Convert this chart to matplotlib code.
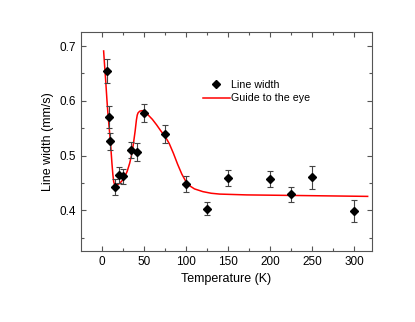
import numpy as np
import matplotlib
matplotlib.use("Agg")
import matplotlib.pyplot as plt
from matplotlib.lines import Line2D

plt.rcParams['font.family'] = ['Liberation Sans', 'DejaVu Sans']

# measured line width vs temperature
temp = [6, 8, 10, 15, 20, 25, 35, 42, 50, 75, 100, 125, 150, 200, 225, 250, 300]
width = [0.655, 0.570, 0.526, 0.442, 0.464, 0.462, 0.510, 0.506, 0.578, 0.539,
         0.448, 0.403, 0.459, 0.457, 0.429, 0.460, 0.399]
err = [0.022, 0.020, 0.016, 0.015, 0.015, 0.014, 0.014, 0.016, 0.016, 0.016,
       0.015, 0.012, 0.015, 0.015, 0.014, 0.021, 0.020]

# guide to the eye
guide_t = [2.0, 3.0, 4.4, 6.0, 7.1, 8.5, 10, 11, 11.9, 13, 14, 15, 16, 18, 21, 24,
           27, 30, 33, 36, 38, 39.5, 41, 42, 43, 45, 48, 51, 55, 60, 65, 70, 75,
           80, 85, 90, 95, 100, 105, 110, 120, 130, 140, 172, 227, 316]
guide_w = [0.691, 0.668, 0.638, 0.600, 0.577, 0.552, 0.528, 0.505, 0.4855, 0.465,
           0.452, 0.447, 0.445, 0.446, 0.449, 0.454, 0.461, 0.471, 0.486, 0.506,
           0.528, 0.545, 0.565, 0.574, 0.578, 0.581, 0.582, 0.580, 0.574, 0.566,
           0.556, 0.545, 0.535, 0.522, 0.504, 0.484, 0.466, 0.452, 0.444, 0.439,
           0.434, 0.431, 0.4295, 0.428, 0.427, 0.4253]

fig = plt.figure(figsize=(4.15, 3.22), dpi=100)
ax = fig.add_axes([0.195, 0.2205, 0.701, 0.68])

eb = ax.errorbar(temp, width, yerr=err, fmt='D', color='black', ms=4.5,
                 ecolor='#444444', elinewidth=0.8, capsize=2, capthick=0.8,
                 zorder=3)
for cl in eb[1]:
    cl.set_color('#999999')
ax.plot(guide_t, guide_w, color='red', lw=1.1, zorder=2)

ax.set_xlim(-25, 321)
ax.set_ylim(0.3255, 0.7256)
ax.set_xticks([0, 50, 100, 150, 200, 250, 300])
ax.set_xticks([25, 75, 125, 175, 225, 275], minor=True)
ax.set_yticks([0.4, 0.5, 0.6, 0.7])
ax.set_yticks([0.35, 0.45, 0.55, 0.65], minor=True)
ax.tick_params(which='both', direction='in', top=True, right=True,
               labelsize=8.5, color='#555555', width=0.8)
ax.tick_params(which='major', length=3.5)
ax.tick_params(which='minor', length=2)
for sp in ax.spines.values():
    sp.set_color('#555555')
    sp.set_linewidth(0.8)

ax.set_xlabel('Temperature (K)', fontsize=9)
ax.set_ylabel('Line width (mm/s)', fontsize=9)

handles = [Line2D([], [], ls='none', marker='D', color='black', ms=4.5),
           Line2D([], [], color='red', lw=1.1)]
ax.legend(handles, ['Line width', 'Guide to the eye'], loc='upper left',
          bbox_to_anchor=(0.405, 0.80), frameon=False, fontsize=7.7,
          handlelength=2.5, handletextpad=0.15, labelspacing=0.3,
          borderaxespad=0)

fig.savefig('out.png', dpi=100)
